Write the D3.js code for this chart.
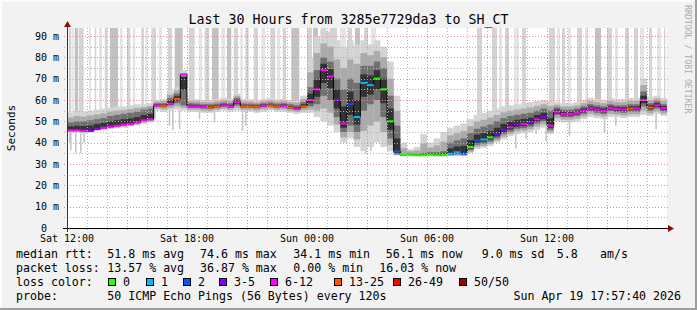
<!DOCTYPE html>
<html>
<head>
<meta charset="utf-8">
<script src="https://cdn.jsdelivr.net/npm/d3@7"></script>
<style>
  body { margin: 0; background: #f2f2f2; }
  svg { display: block; }
  text { font-family: "DejaVu Sans Mono", monospace; fill: #000; }
</style>
</head>
<body>
<script>
// ---- data ----
const startTime = new Date(2026, 3, 18, 12, 0, 0);
const endTime = new Date(2026, 3, 19, 18, 0, 0);
const binMinutes = 20;

// median rtt per 20 minute bin (ms)
const median = [
  45.8, 45.8, 45.6, 45.6, 46.5, 47, 47.5, 48, 48.5, 48.8, 49.5, 50.5, 51,
  57.5, 57.3, 58.3, 60.5, 72, 57, 57, 56.7, 56.5, 57, 57.5, 57, 59, 57, 57, 56.8, 57.3, 57.5, 57, 57.2, 56.5, 56, 57,
  60, 65, 74, 71, 60, 49, 58, 52, 68, 67, 70, 65, 50, 36,
  34.3, 34.2, 34.1, 34.1, 34.2, 34.1, 34.3,
  34.8, 35.5, 35, 38, 41, 41.5, 42.5, 44, 46, 47.2, 48.5, 48.8, 49.5, 51, 52, 48,
  54.5, 53.5, 53.5, 54, 55, 56.2, 55.5, 55, 56.3, 55.8, 55.5, 56, 56, 60, 56.5, 57.5, 56.2
];
// smoke extents per bin (ms)
const smokeLow = [
  44.5, 44.8, 44.5, 44.8, 45.5, 46, 46.3, 46.8, 47, 47.5, 48, 48.8, 49.5,
  55, 54.5, 55, 55.5, 55, 54.5, 54.5, 54, 54, 54.5, 55, 54.5, 55, 54.5, 54.5, 54, 54.5, 55, 54.5, 54.5, 54, 53.5, 54,
  54, 52, 50, 48, 45, 40, 42, 38, 36, 38, 40, 38, 36, 34,
  33.6, 33.6, 33.6, 33.6, 33.6, 33.6, 33.6,
  33.6, 33.8, 33.6, 35, 37, 37.5, 38.5, 40, 41.5, 43, 44, 44.5, 45, 46, 47, 44,
  50, 49.5, 49.5, 50, 51, 52, 51.5, 51, 52, 52, 51.5, 52, 52, 53, 52.5, 53.5, 52.5
];
const smokeQ1 = [
  45.5, 45.5, 45.3, 45.3, 46.2, 46.7, 47.2, 47.6, 48.1, 48.4, 49.1, 50, 50.5,
  56.8, 56.6, 57.5, 58.5, 57.5, 56.3, 56.3, 56, 55.8, 56.3, 56.8, 56.3, 57.5, 56.3, 56.3, 56.1, 56.6, 56.8, 56.3, 56.5, 55.8, 55.3, 56.3,
  57, 58, 62, 60, 52, 45, 48, 45, 55, 58, 60, 52, 42, 34.5,
  34, 33.9, 33.8, 33.8, 33.9, 33.8, 34,
  34.2, 34.5, 34.3, 36.5, 39, 39.5, 40.5, 42, 44, 45.2, 46.5, 46.8, 47.5, 49, 50, 46,
  53, 52, 52, 52.5, 53.5, 54.7, 54, 53.5, 54.8, 54.3, 54, 54.5, 54.5, 57, 55, 56, 54.7
];
const smokeQ3 = [
  49.5, 50, 50, 50.5, 51, 51.5, 52.5, 53, 53.5, 54, 54.5, 55.5, 56,
  58.5, 58.5, 61, 63, 70, 58.5, 58.3, 58, 58, 58.3, 58.8, 58.5, 61, 58.3, 58.3, 58, 58.5, 58.8, 58.3, 58.5, 58, 57.5, 59,
  66, 74, 80, 78, 70, 65, 70, 68, 76, 76, 78, 75, 62, 48,
  34.8, 35, 34.8, 35.2, 35.5, 35.5, 36,
  40, 41, 42, 44.5, 46.5, 47.5, 48.5, 50, 51.5, 52.5, 53, 53.5, 54, 55, 56, 55,
  56.5, 55.5, 55.5, 56, 57, 58, 57.5, 57, 58, 57.5, 57.5, 58, 58, 64, 58.5, 59.5, 58
];
const smokeHigh = [
  54, 55, 54.5, 55, 55.5, 56, 56.5, 57, 57, 57.5, 58, 58, 58.5,
  60, 60.5, 64, 66, 74, 60.5, 60.3, 60, 60, 60.5, 61, 60.5, 63, 60.5, 60.3, 60, 60.5, 60.8, 60.3, 60.5, 60, 60, 62,
  80, 90, 93, 92, 88, 85, 88, 86, 88, 86, 88, 85, 78, 62,
  40, 37, 38, 44, 40, 42, 45,
  47, 48, 49, 51, 53, 54, 55, 56, 57, 57.5, 58, 58.5, 59, 59.5, 60, 59.5,
  59, 58.5, 58.5, 59, 60, 61, 60.5, 60, 61, 60.5, 60.5, 61, 61, 70, 61.5, 62, 61
];
// lost pings out of 50 per bin
const lossCount = [
  8, 8, 8, 4, 4, 8, 7, 8, 9, 8, 8, 9, 8,
  8, 14, 8, 14, 8, 9, 10, 8, 14, 15, 9, 8, 10, 14, 15, 14, 9, 14, 15, 10, 14, 9, 14,
  8, 7, 8, 9, 4, 8, 2, 1, 1, 1, 0, 0, 0, 2,
  0, 0, 0, 0, 0, 0, 0,
  1, 1, 2, 0, 2, 1, 0, 3, 4, 7, 4, 8, 4, 8, 4, 8,
  8, 8, 8, 8, 8, 8, 8, 8, 8, 8, 8, 14, 8, 8, 14, 8, 8
];

// smoke columns that run off the top (hours from start)
const spikeFrom = [0.085, 0.25, 0.385, 0.585, 1.1, 1.385, 1.6, 1.885, 2.15, 2.65, 3.0, 3.285, 3.715, 3.915, 4.215, 4.585, 5.05, 5.385,
  6.085, 6.585, 6.885, 7.25, 7.715, 8.0, 8.335, 8.665, 8.915, 9.335, 9.715, 10.165, 10.5, 10.785, 11.215, 12.0, 12.3, 12.7, 13.15,
  13.65, 14.05, 14.4, 14.85, 15.2, 20.5, 21.25, 21.6, 21.9, 22.35, 22.75, 24.1, 24.5, 24.75, 25.05, 25.5, 25.9, 26.4, 27.0, 27.4,
  27.9, 28.35, 28.65, 29.1, 29.5, 29.85];
const spikeTo = [0.215, 0.335, 0.55, 0.835, 1.2, 1.465, 1.75, 2.015, 2.55, 2.785, 3.165, 3.415, 3.85, 4.015, 4.45, 4.75, 5.25, 5.785,
  6.385, 6.75, 7.115, 7.585, 7.915, 8.215, 8.55, 8.785, 9.085, 9.55, 9.915, 10.415, 10.665, 10.95, 11.615, 12.25, 12.55, 12.95, 13.5,
  13.95, 14.25, 14.65, 15.05, 15.45, 20.75, 21.5, 21.75, 22.1, 22.6, 22.95, 24.4, 24.65, 24.9, 25.2, 25.75, 26.05, 26.7, 27.25, 27.55,
  28.1, 28.55, 28.85, 29.25, 29.7, 29.92];
const spikeShade = [1, 0, 2, 1, 0, 1, 0, 1, 2, 0, 1, 0, 1, 0, 1, 0, 1, 2,
  1, 0, 1, 2, 0, 2, 1, 0, 1, 1, 0, 1, 0, 1, 2, 1, 2, 1, 1,
  0, 1, 2, 1, 0, 1, 1, 0, 1, 0, 1, 1, 0, 1, 0, 1, 0, 2, 1, 0,
  1, 1, 0, 1, 0, 1];

// single low outliers hanging below the smoke
const dipHour = [0.1, 0.15, 0.4, 0.65, 0.815, 5.085, 5.25, 5.585, 6.585, 7.335, 8.735, 8.9, 9.4, 11.75, 14.9, 15.15,
  22.4, 22.915, 23.415, 23.915, 25.085, 26.835, 27.4, 29.415];
const dipValue = [40, 36.6, 35.3, 35, 39.8, 47.8, 46, 46.3, 51, 49.4, 45.5, 47.8, 54, 54.5, 34.8, 36,
  37.2, 41.8, 44, 40.3, 43.4, 45, 48, 46.4];

const yTicks = [0, 10, 20, 30, 40, 50, 60, 70, 80, 90];
const yTickLabels = ['0  ', '10 m', '20 m', '30 m', '40 m', '50 m', '60 m', '70 m', '80 m', '90 m'];
const xTickHours = [0, 6, 12, 18, 24];

const lossBuckets = ['0', '1', '2', '3-5', '6-12', '13-25', '26-49', '50/50'];
const lossUpper = [0, 1, 2, 5, 12, 25, 49, 50];
const lossColors = ['#26ff00', '#00b8ff', '#0059ff', '#7e00ff', '#ff00ff', '#ff5500', '#ff0000', '#a00000'];

const rttStats = ['median rtt:', '51.8 ms avg', '74.6 ms max', '34.1 ms min', '56.1 ms now', '9.0 ms sd', '5.8', 'am/s'];
const lossStats = ['packet loss:', '13.57 % avg', '36.87 % max', '0.00 % min', '16.03 % now'];
const probeStats = ['probe:', '50 ICMP Echo Pings (56 Bytes) every 120s'];
const stampText = 'Sun Apr 19 17:57:40 2026';
const titleText = 'Last 30 Hours from 3285e7729da3 to SH_CT';

// ---- drawing ----
const W = 697, H = 310;
const plot = {left: 67, top: 28, width: 600, height: 200};

const svg = d3.select('body').append('svg')
  .attr('width', W)
  .attr('height', H);

// background + 3d frame
svg.append('rect').attr('width', W).attr('height', H).style('fill', '#f2f2f2');
svg.append('rect').attr('x', 0).attr('y', 0).attr('width', W).attr('height', 2).style('fill', '#fcfcfc');
svg.append('rect').attr('x', 0).attr('y', 0).attr('width', 2).attr('height', H).style('fill', '#fcfcfc');
svg.append('rect').attr('x', W - 2).attr('y', 0).attr('width', 2).attr('height', H).style('fill', '#9e9e9e');
svg.append('rect').attr('x', 0).attr('y', H - 2).attr('width', W).attr('height', 2).style('fill', '#9e9e9e');

// canvas
svg.append('rect')
  .attr('x', plot.left).attr('y', plot.top)
  .attr('width', plot.width).attr('height', plot.height)
  .style('fill', '#ffffff');

const xScale = d3.scaleTime()
  .domain([startTime, endTime])
  .range([plot.left, plot.left + plot.width]);

const yScale = d3.scaleLinear()
  .domain([0, 93.75])
  .range([plot.top + plot.height, plot.top]);

const binTime = i => d3.timeMinute.offset(startTime, i * binMinutes);
const hourTime = h => new Date(+startTime + h * 3600e3);
const lossColor = n => lossColors[lossUpper.findIndex(u => n <= u)];

svg.append('clipPath').attr('id', 'plotClip')
  .append('rect')
  .attr('x', plot.left).attr('y', plot.top)
  .attr('width', plot.width).attr('height', plot.height);

const g = svg.append('g').attr('clip-path', 'url(#plotClip)');
const bins = d3.range(median.length);

// columns going off the top
const spikeColors = ['#e4e4e4', '#d4d4d4', '#c2c2c2'];
const spikeBin = h => Math.min(median.length - 1, Math.floor(h * 60 / binMinutes));
g.selectAll('rect.spike')
  .data(spikeFrom.map((f, i) => [f, spikeTo[i], spikeShade[i]]))
  .enter().append('rect')
  .attr('class', 'spike')
  .attr('x', d => xScale(hourTime(d[0])))
  .attr('width', d => xScale(hourTime(d[1])) - xScale(hourTime(d[0])))
  .attr('y', plot.top)
  .attr('height', d => yScale(median[spikeBin(d[0])]) - plot.top)
  .style('fill', d => spikeColors[d[2]]);

// low outliers
g.selectAll('rect.dip')
  .data(dipHour.map((h, i) => [h, dipValue[i]]))
  .enter().append('rect')
  .attr('class', 'dip')
  .attr('x', d => xScale(hourTime(d[0])))
  .attr('width', 1.6)
  .attr('y', d => yScale(median[spikeBin(d[0])]))
  .attr('height', d => yScale(d[1]) - yScale(median[spikeBin(d[0])]))
  .style('fill', '#c6c6c6');

// smoke, lightest band first
const lerp = (a, b, t) => a + (b - a) * t;
const bands = [
  {lo: i => smokeLow[i], hi: i => smokeHigh[i], color: '#d4d4d4'},
  {lo: i => lerp(smokeLow[i], smokeQ1[i], 0.5), hi: i => lerp(smokeQ3[i], smokeHigh[i], 0.5), color: '#ababab'},
  {lo: i => smokeQ1[i], hi: i => smokeQ3[i], color: '#707070'},
  {lo: i => lerp(smokeQ1[i], median[i], 0.5), hi: i => lerp(median[i], smokeQ3[i], 0.5), color: '#333333'}
];
bands.forEach((band, k) => {
  g.selectAll('rect.smoke' + k)
    .data(bins)
    .enter().append('rect')
    .attr('class', 'smoke' + k)
    .attr('x', i => xScale(binTime(i)))
    .attr('width', i => xScale(binTime(i + 1)) - xScale(binTime(i)))
    .attr('y', i => yScale(band.hi(i)))
    .attr('height', i => yScale(band.lo(i)) - yScale(band.hi(i)))
    .style('fill', band.color);
});

// median: black steps, coloured by loss
const medLine = d3.line()
  .x(i => xScale(binTime(i)))
  .y(i => yScale(median[Math.min(i, median.length - 1)]))
  .curve(d3.curveStepAfter);
g.append('path')
  .datum(d3.range(median.length + 1))
  .attr('d', medLine)
  .style('fill', 'none')
  .style('stroke', '#000')
  .style('stroke-width', 1);

g.selectAll('rect.med')
  .data(bins)
  .enter().append('rect')
  .attr('class', 'med')
  .attr('x', i => xScale(binTime(i)))
  .attr('width', i => xScale(binTime(i + 1)) - xScale(binTime(i)))
  .attr('y', i => yScale(median[i]) - 1)
  .attr('height', 2)
  .style('fill', i => lossColor(lossCount[i]));

// grid on top
const gridMinor = '#b4b4b4', gridMajor = '#f08c8c';
const grid = svg.append('g').style('shape-rendering', 'crispEdges');
grid.selectAll('line.hgrid')
  .data(d3.range(5, 91, 5))
  .enter().append('line')
  .attr('x1', plot.left - 3).attr('x2', plot.left + plot.width + 2)
  .attr('y1', v => Math.round(yScale(v)) + 0.5)
  .attr('y2', v => Math.round(yScale(v)) + 0.5)
  .style('stroke', v => v % 10 === 0 ? gridMajor : gridMinor)
  .style('stroke-dasharray', '1,2');
grid.selectAll('line.vgrid')
  .data(d3.range(1, 30))
  .enter().append('line')
  .attr('x1', h => Math.round(xScale(hourTime(h))) + 0.5)
  .attr('x2', h => Math.round(xScale(hourTime(h))) + 0.5)
  .attr('y1', plot.top).attr('y2', plot.top + plot.height + 3)
  .style('stroke', h => h % 3 === 0 ? gridMajor : gridMinor)
  .style('stroke-dasharray', '1,2');

// axes with arrows
const axisG = svg.append('g').style('shape-rendering', 'crispEdges');
axisG.append('line')
  .attr('x1', plot.left - 4).attr('x2', plot.left + plot.width + 2)
  .attr('y1', plot.top + plot.height + 0.5).attr('y2', plot.top + plot.height + 0.5)
  .style('stroke', '#000');
axisG.append('line')
  .attr('x1', plot.left + 0.5).attr('x2', plot.left + 0.5)
  .attr('y1', plot.top - 2).attr('y2', plot.top + plot.height + 4)
  .style('stroke', '#5a2626');
const ax = plot.left + plot.width + 1, ay = plot.top + plot.height + 0.5;
svg.append('path')
  .attr('d', `M${ax},${ay - 3.5}L${ax + 6},${ay}L${ax},${ay + 3.5}Z`)
  .style('fill', '#8b0a0a');
svg.append('path')
  .attr('d', `M${plot.left + 0.5 - 3.5},${plot.top - 1}L${plot.left + 0.5},${plot.top - 7}L${plot.left + 0.5 + 3.5},${plot.top - 1}Z`)
  .style('fill', '#8b0a0a');

// tick labels
svg.selectAll('text.ylab')
  .data(yTicks)
  .enter().append('text')
  .attr('class', 'ylab')
  .attr('x', plot.left - 8)
  .attr('y', v => yScale(v) + 3.5)
  .attr('text-anchor', 'end')
  .attr('xml:space', 'preserve')
  .style('font-size', '10px')
  .text((v, i) => yTickLabels[i]);

const xFormat = d3.timeFormat('%a %H:%M');
svg.selectAll('text.xlab')
  .data(xTickHours)
  .enter().append('text')
  .attr('class', 'xlab')
  .attr('x', h => xScale(hourTime(h)))
  .attr('y', plot.top + plot.height + 13.5)
  .attr('text-anchor', 'middle')
  .style('font-size', '10px')
  .text(h => xFormat(hourTime(h)));

// title, y label, watermark
svg.append('text')
  .attr('x', W / 2)
  .attr('y', 24)
  .attr('text-anchor', 'middle')
  .style('font-size', '13.3px')
  .text(titleText);

svg.append('text')
  .attr('transform', `translate(15,${plot.top + plot.height / 2}) rotate(-90)`)
  .attr('text-anchor', 'middle')
  .style('font-size', '11px')
  .text('Seconds');

svg.append('text')
  .attr('transform', 'translate(685,5) rotate(90)')
  .style('font-size', '8.2px')
  .style('fill', '#ababab')
  .text('RRDTOOL / TOBI OETIKER');

// legend
const legendFont = '11.6px';
const rttX = [16, 107.3, 200, 293.3, 385.7, 481.7, 556.7, 600];
const lossX = [16, 107.3, 200, 293.3, 379.3];
const rows = [
  {items: rttStats, xs: rttX, y: 258},
  {items: lossStats, xs: lossX, y: 272},
  {items: probeStats, xs: [16, 107.3], y: 300}
];
rows.forEach(row => {
  svg.selectAll(null)
    .data(row.items)
    .enter().append('text')
    .attr('x', (d, i) => row.xs[i])
    .attr('y', row.y)
    .style('font-size', legendFont)
    .text(d => d);
});
svg.append('text')
  .attr('x', 681)
  .attr('y', 300)
  .attr('text-anchor', 'end')
  .style('font-size', legendFont)
  .text(stampText);

svg.append('text')
  .attr('x', 16).attr('y', 286)
  .style('font-size', legendFont)
  .text('loss color:');
const boxX = [108.3, 145.7, 182.7, 219.3, 270, 334, 393.3, 459];
const lg = svg.selectAll('g.lossKey')
  .data(lossBuckets)
  .enter().append('g')
  .attr('class', 'lossKey')
  .attr('transform', (d, i) => `translate(${Math.round(boxX[i])},278)`);
lg.append('rect')
  .attr('x', 0.5).attr('y', 0.5)
  .attr('width', 7).attr('height', 7)
  .style('fill', (d, i) => lossColors[i])
  .style('stroke', '#000');
lg.append('text')
  .attr('x', 15)
  .attr('y', 8)
  .style('font-size', legendFont)
  .text(d => d);
</script>
</body>
</html>
